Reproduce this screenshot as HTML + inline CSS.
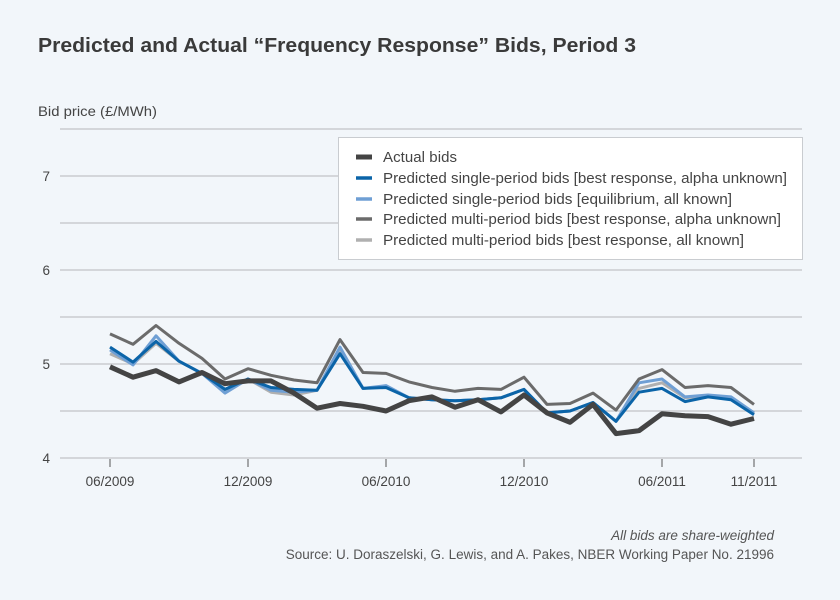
<!DOCTYPE html>
<html><head><meta charset="utf-8"><style>
body{margin:0;background:#f2f6fa;}
svg{display:block;font-family:"Liberation Sans",sans-serif;}
</style></head><body>
<svg id="s" width="840" height="600" xmlns="http://www.w3.org/2000/svg">
<rect width="840" height="600" fill="#f2f6fa"/>
<text x="38" y="52" font-size="20" font-weight="bold" fill="#3a3a3a" textLength="598" lengthAdjust="spacingAndGlyphs">Predicted and Actual “Frequency Response” Bids, Period 3</text>
<text x="38" y="116" font-size="14" fill="#444" textLength="119" lengthAdjust="spacingAndGlyphs">Bid price (£/MWh)</text>
<g id="grid" stroke="#c9ccd0" stroke-width="1.5"></g>
<g font-size="13.5" fill="#444" text-anchor="end">
<text x="50" y="181">7</text><text x="50" y="275">6</text><text x="50" y="369">5</text><text x="50" y="463">4</text>
</g>
<g stroke="#555" stroke-width="1">
<line x1="110" y1="459" x2="110" y2="467"/><line x1="248" y1="459" x2="248" y2="467"/><line x1="386" y1="459" x2="386" y2="467"/><line x1="524" y1="459" x2="524" y2="467"/><line x1="662" y1="459" x2="662" y2="467"/><line x1="754" y1="459" x2="754" y2="467"/>
</g>
<g font-size="13.5" fill="#444" text-anchor="middle">
<text x="110" y="486">06/2009</text><text x="248" y="486">12/2009</text><text x="386" y="486">06/2010</text><text x="524" y="486">12/2010</text><text x="662" y="486">06/2011</text><text x="754" y="486">11/2011</text>
</g>
<g id="lines" fill="none" stroke-linejoin="round"></g>
<rect x="338.5" y="137.5" width="464" height="122" fill="#fff" stroke="#c9ccd0"/>
<g stroke-width="3.5">
<line x1="356" y1="157" x2="372" y2="157" stroke="#444" stroke-width="5"/>
<line x1="356" y1="178" x2="372" y2="178" stroke="#0b64a8"/>
<line x1="356" y1="199" x2="372" y2="199" stroke="#6f9fd4"/>
<line x1="356" y1="219" x2="372" y2="219" stroke="#6b6b6b"/>
<line x1="356" y1="240" x2="372" y2="240" stroke="#b0b0b0"/>
</g>
<g font-size="15" fill="#444" lengthAdjust="spacingAndGlyphs">
<text x="383" y="162" textLength="74">Actual bids</text>
<text x="383" y="183" textLength="404" lengthAdjust="spacingAndGlyphs">Predicted single-period bids [best response, alpha unknown]</text>
<text x="383" y="204" textLength="349" lengthAdjust="spacingAndGlyphs">Predicted single-period bids [equilibrium, all known]</text>
<text x="383" y="224" textLength="398" lengthAdjust="spacingAndGlyphs">Predicted multi-period bids [best response, alpha unknown]</text>
<text x="383" y="245" textLength="361" lengthAdjust="spacingAndGlyphs">Predicted multi-period bids [best response, all known]</text>
</g>
<text x="774" y="540" font-size="13.5" font-style="italic" fill="#555" text-anchor="end">All bids are share-weighted</text>
<text x="774" y="559" font-size="13.5" fill="#555" text-anchor="end">Source: U. Doraszelski, G. Lewis, and A. Pakes, NBER Working Paper No. 21996</text>
</svg>
<script>
var g=document.getElementById('grid'),L=document.getElementById('lines'),ns='http://www.w3.org/2000/svg';
[4,4.5,5,5.5,6,6.5,7,7.5].forEach(function(v){var y=458-(v-4)*94;var l=document.createElementNS(ns,'line');l.setAttribute('x1',60);l.setAttribute('x2',802);l.setAttribute('y1',y);l.setAttribute('y2',y);g.appendChild(l);});
var act=[4.97,4.86,4.93,4.81,4.91,4.79,4.82,4.82,4.69,4.53,4.58,4.55,4.50,4.61,4.65,4.54,4.62,4.49,4.67,4.48,4.38,4.57,4.26,4.29,4.47,4.45,4.44,4.36,4.42];
var blue=[5.18,5.02,5.24,5.03,4.90,4.73,4.84,4.75,4.73,4.72,5.11,4.74,4.75,4.64,4.62,4.61,4.62,4.64,4.73,4.48,4.50,4.59,4.39,4.70,4.74,4.60,4.65,4.62,4.46];
var lblue=blue.slice();var d={0:5.15,1:4.99,2:5.30,5:4.69,7:4.72,8:4.70,10:5.18,12:4.77,23:4.80,24:4.84,25:4.65,26:4.67,27:4.65,28:4.48};for(var k in d)lblue[k]=d[k];
var mgr=[5.32,5.21,5.41,5.22,5.06,4.84,4.95,4.88,4.83,4.80,5.26,4.91,4.90,4.81,4.75,4.71,4.74,4.73,4.86,4.57,4.58,4.69,4.51,4.84,4.94,4.75,4.77,4.75,4.57];
var lgr=blue.slice();var e={0:5.11,1:5.00,2:5.22,7:4.70,8:4.67,10:5.14,12:4.76,23:4.74,24:4.80,25:4.64,26:4.66,27:4.64,28:4.47};for(var k in e)lgr[k]=e[k];
function add(a,c,w){var p='';a.forEach(function(v,i){p+=(i?'L':'M')+(110+i*23)+','+(458-(v-4)*94).toFixed(1);});var el=document.createElementNS(ns,'path');el.setAttribute('d',p);el.setAttribute('stroke',c);el.setAttribute('stroke-width',w);L.appendChild(el);}
add(lgr,'#b0b0b0',3);add(lblue,'#6f9fd4',3);add(mgr,'#6b6b6b',3);add(blue,'#0b64a8',3);add(act,'#444',5);
</script>
</body></html>
